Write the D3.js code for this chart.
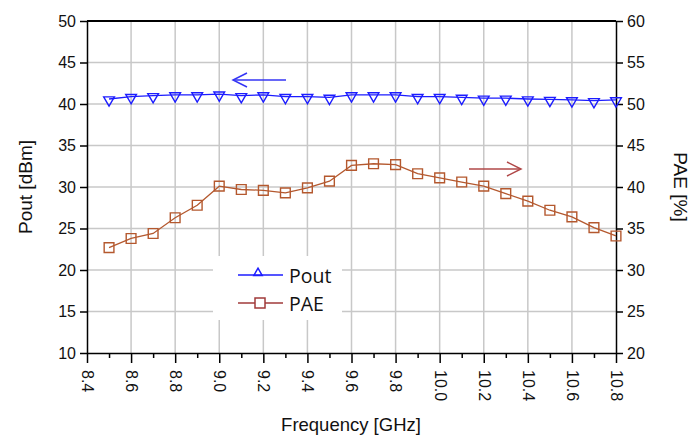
<!DOCTYPE html>
<html>
<head>
<meta charset="utf-8">
<script src="https://cdn.jsdelivr.net/npm/d3@7"></script>
<style>
  body { margin: 0; background: #fff; }
  text { font-family: "Liberation Sans", Arial, sans-serif; }
</style>
</head>
<body>
<svg id="chart" width="696" height="437"></svg>
<script>
// frequency points in GHz
var freq = [8.5, 8.6, 8.7, 8.8, 8.9, 9.0, 9.1, 9.2, 9.3, 9.4, 9.5, 9.6,
            9.7, 9.8, 9.9, 10.0, 10.1, 10.2, 10.3, 10.4, 10.5, 10.6, 10.7, 10.8];
// output power, dBm (left axis)
var pout = [40.6, 40.9, 41.0, 41.1, 41.1, 41.2, 41.0, 41.1, 40.9, 40.9, 40.8, 41.1,
            41.1, 41.1, 40.9, 40.9, 40.8, 40.7, 40.7, 40.6, 40.55, 40.5, 40.4, 40.5];
// power added efficiency, % (right axis)
var pae = [32.7, 33.8, 34.4, 36.3, 37.8, 40.1, 39.7, 39.6, 39.3, 39.9, 40.7, 42.6,
           42.8, 42.7, 41.6, 41.1, 40.6, 40.1, 39.2, 38.3, 37.2, 36.4, 35.1, 34.1];

var xTicks = [8.4, 8.6, 8.8, 9.0, 9.2, 9.4, 9.6, 9.8, 10.0, 10.2, 10.4, 10.6, 10.8];
var xMinor = [8.5, 8.7, 8.9, 9.1, 9.3, 9.5, 9.7, 9.9, 10.1, 10.3, 10.5, 10.7];
var leftTicks = [10, 15, 20, 25, 30, 35, 40, 45, 50];
var rightTicks = [20, 25, 30, 35, 40, 45, 50, 55, 60];

var L = 87, R = 616, T = 21, B = 353;
var blue = "#1c1cff", brown = "#b4582e";

var svg = d3.select("#chart");

var x = d3.scaleLinear().domain([8.4, 10.8]).range([L, R]);
var yL = d3.scaleLinear().domain([10, 50]).range([B, T]);
var yR = d3.scaleLinear().domain([20, 60]).range([B, T]);

// grid
svg.append("g").selectAll("line").data(xTicks.slice(1, -1)).enter().append("line")
  .attr("x1", d => x(d)).attr("x2", d => x(d)).attr("y1", T).attr("y2", B)
  .attr("stroke", "#c8c8c8").attr("stroke-width", 1.5);
svg.append("g").selectAll("line").data(leftTicks.slice(1, -1)).enter().append("line")
  .attr("x1", L).attr("x2", R).attr("y1", d => yL(d)).attr("y2", d => yL(d))
  .attr("stroke", "#c8c8c8").attr("stroke-width", 1.5);

// axes
var xAxis = svg.append("g").attr("transform", "translate(0," + B + ")")
  .call(d3.axisBottom(x).tickValues(xTicks).tickSize(10).tickSizeOuter(0).tickFormat(d3.format(".1f")));
xAxis.selectAll("text")
  .attr("transform", "rotate(90)")
  .attr("x", 17).attr("y", 0).attr("dy", "0.35em")
  .style("text-anchor", "start");
svg.append("g").attr("transform", "translate(0," + B + ")")
  .call(d3.axisBottom(x).tickValues(xMinor).tickSize(5).tickSizeOuter(0).tickFormat(""))
  .select(".domain").remove();

svg.append("g").attr("transform", "translate(" + L + ",0)")
  .call(d3.axisLeft(yL).tickValues(leftTicks).tickSize(7).tickSizeOuter(0).tickPadding(4));
svg.append("g").attr("transform", "translate(" + R + ",0)")
  .call(d3.axisRight(yR).tickValues(rightTicks).tickSize(7).tickSizeOuter(0).tickPadding(4));

svg.selectAll(".tick text").attr("font-size", 16).attr("fill", "#111")
  .attr("font-family", "Liberation Sans, Arial, sans-serif");
svg.selectAll(".domain, .tick line").attr("stroke", "#000").attr("stroke-width", 1.5);

// top border
svg.append("line").attr("x1", L).attr("x2", R).attr("y1", T).attr("y2", T)
  .attr("stroke", "#000").attr("stroke-width", 2);

// series
var triDown = d3.symbol().type(d3.symbolTriangle).size(50);
var sq = d3.symbol().type(d3.symbolSquare).size(95);

svg.append("path").datum(freq)
  .attr("fill", "none").attr("stroke", brown).attr("stroke-width", 1.3)
  .attr("d", d3.line().x(d => x(d)).y((d, i) => yR(pae[i])));
svg.append("g").selectAll("path").data(freq).enter().append("path")
  .attr("d", sq)
  .attr("transform", (d, i) => "translate(" + x(d) + "," + yR(pae[i]) + ")")
  .attr("fill", "none").attr("stroke", brown).attr("stroke-width", 1.4);

svg.append("path").datum(freq)
  .attr("fill", "none").attr("stroke", blue).attr("stroke-width", 1.3)
  .attr("d", d3.line().x(d => x(d)).y((d, i) => yL(pout[i])));
svg.append("g").selectAll("path").data(freq).enter().append("path")
  .attr("d", triDown)
  .attr("transform", (d, i) => "translate(" + x(d) + "," + (yL(pout[i]) + 1) + ") rotate(180)")
  .attr("fill", "none").attr("stroke", blue).attr("stroke-width", 1.4);

// direction arrows
function arrow(x1, x2, y, col, left) {
  var g = svg.append("g").attr("stroke", col).attr("stroke-width", 1.5).attr("fill", "none");
  g.append("line").attr("x1", x1).attr("x2", x2).attr("y1", y).attr("y2", y);
  var tip = left ? x1 : x2, s = left ? 1 : -1;
  g.append("path").attr("d", "M" + (tip + s * 14) + "," + (y - 7) + "L" + tip + "," + y + "L" + (tip + s * 14) + "," + (y + 7));
}
arrow(233, 286, 80, "#3535f5", true);
arrow(469, 521, 169, "#b04848", false);

// legend
svg.append("rect").attr("x", 213).attr("y", 256).attr("width", 129).attr("height", 64).attr("fill", "#fff");
var lg = svg.append("g");
lg.append("line").attr("x1", 238).attr("x2", 283).attr("y1", 275).attr("y2", 275).attr("stroke", blue).attr("stroke-width", 1.5);
lg.append("path").attr("d", d3.symbol().type(d3.symbolTriangle).size(30))
  .attr("transform", "translate(258,273)").attr("fill", "none").attr("stroke", blue).attr("stroke-width", 1.5);
lg.append("line").attr("x1", 238).attr("x2", 283).attr("y1", 303).attr("y2", 303).attr("stroke", "#a03a3a").attr("stroke-width", 1.5);
lg.append("rect").attr("x", 255).attr("y", 298).attr("width", 10).attr("height", 10)
  .attr("fill", "#fff").attr("stroke", "#a03a3a").attr("stroke-width", 1.5);
lg.append("text").attr("x", 289).attr("y", 283).text("Pout")
  .style("font-family", "Open Sans, sans-serif").attr("font-size", 19.5).attr("fill", "#111");
lg.append("text").attr("x", 289).attr("y", 311).text("PAE")
  .style("font-family", "Open Sans, sans-serif").attr("font-size", 19.5).attr("fill", "#111");

// axis titles
svg.append("text").attr("transform", "translate(32,187) rotate(-90)")
  .attr("text-anchor", "middle").attr("font-size", 19).attr("fill", "#111").text("Pout [dBm]");
svg.append("text").attr("transform", "translate(674,187) rotate(90)")
  .attr("text-anchor", "middle").attr("font-size", 19).attr("fill", "#111").text("PAE [%]");
svg.append("text").attr("x", 351).attr("y", 431)
  .attr("text-anchor", "middle").attr("font-size", 18.5).attr("fill", "#111").text("Frequency [GHz]");
</script>
</body>
</html>
